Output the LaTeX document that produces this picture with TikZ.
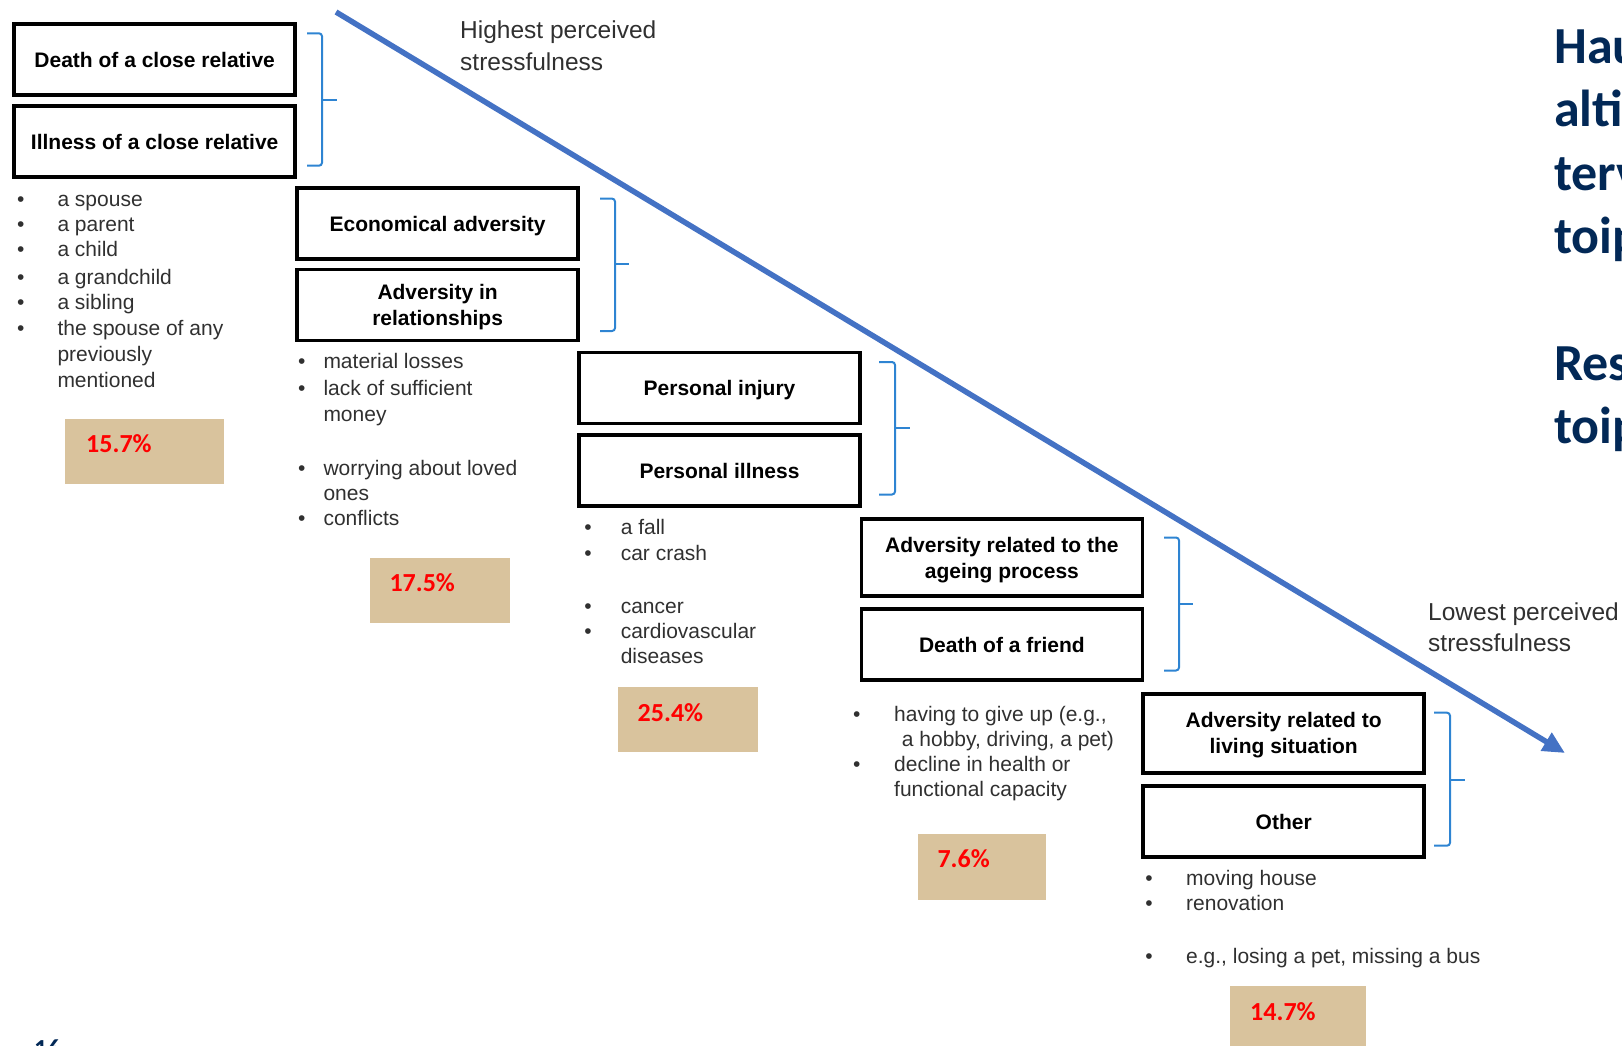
\documentclass[tikz,border=0pt]{standalone}
\usepackage{fontspec}
\setmainfont{Liberation Sans}
\newfontfamily\carlito{Carlito}
\usetikzlibrary{arrows.meta,calc}
\definecolor{tanfill}{RGB}{217,195,157}
\definecolor{arrowblue}{RGB}{68,114,196}
\definecolor{braceblue}{RGB}{46,132,210}
\definecolor{navy}{RGB}{2,40,86}
\definecolor{bodygray}{RGB}{48,48,48}
\begin{document}
\begin{tikzpicture}[x=1pt,y=-1pt,
  catbox/.style={draw=black, line width=3.5pt, minimum width=281pt, minimum height=71pt,
    inner sep=0pt, align=center, text depth=0pt, font=\fontsize{21}{26}\selectfont\bfseries},
  itemtext/.style={anchor=base west, inner sep=0pt, text=bodygray, font=\fontsize{21}{26}\selectfont},
  bul/.style={anchor=base, inner sep=0pt, text=bodygray, font=\fontsize{21}{26}\selectfont},
  pctbox/.style={fill=tanfill, draw=none, anchor=north west, inner sep=0pt},
  pcttext/.style={anchor=base west, inner sep=0pt, text=red, font=\carlito\fontsize{26}{30}\selectfont\bfseries},
  bracepath/.style={draw=braceblue, line width=2pt, rounded corners=3pt},
  stresstext/.style={anchor=base west, inner sep=0pt, text=bodygray, font=\fontsize{24.5}{32}\selectfont},
  navytext/.style={anchor=base west, inner sep=0pt, text=navy, font=\carlito\fontsize{52}{63}\selectfont\bfseries},
  arrowline/.style={draw=arrowblue, line width=5.5pt, -{Triangle[length=22pt,width=20pt]}}
]
\useasboundingbox (0,0) rectangle (1622,1045);

% main arrow
\coordinate (arrowstart) at (336,12);
\coordinate (arrowend) at (1565,753);
\draw[arrowline] (arrowstart) -- (arrowend);

\node[stresstext] (hi1) at (460,38.3) {Highest perceived};
\node[stresstext] (hi2) at (460,70) {stressfulness};
\node[stresstext] (lo1) at (1428,620) {Lowest perceived};
\node[stresstext] (lo2) at (1428,651.7) {stressfulness};

% category boxes
\node[catbox] (b1) at (154.7,59.5) {Death of a close relative};
\node[catbox] (b2) at (154.7,141.7) {Illness of a close relative};
\node[catbox] (b3) at (437.6,223.5) {Economical adversity};
\node[catbox] (b4) at (437.6,305.2) {Adversity in\\relationships};
\node[catbox] (b5) at (719.5,387.9) {Personal injury};
\node[catbox] (b6) at (719.5,470.7) {Personal illness};
\node[catbox, minimum height=77pt] (b7) at (1001.9,557.6) {Adversity related to the\\ageing process};
\node[catbox] (b8) at (1001.9,644.4) {Death of a friend};
\node[catbox, minimum height=79pt] (b9) at (1283.7,733.3) {Adversity related to\\living situation};
\node[catbox] (b10) at (1283.7,821.5) {Other};

% braces
\draw[bracepath] (307,33.3) -- (322,33.3) -- (322,165.7) -- (307,165.7);
\draw[bracepath] (322,100) -- (337,100);
\draw[bracepath] (600,198.6) -- (615,198.6) -- (615,331) -- (600,331);
\draw[bracepath] (615,264) -- (629,264);
\draw[bracepath] (879,362) -- (895,362) -- (895,494.5) -- (879,494.5);
\draw[bracepath] (895,428) -- (910,428);
\draw[bracepath] (1164,537.5) -- (1179,537.5) -- (1179,670.5) -- (1164,670.5);
\draw[bracepath] (1179,604) -- (1193,604);
\draw[bracepath] (1434,712.7) -- (1450,712.7) -- (1450,845.7) -- (1434,845.7);
\draw[bracepath] (1450,780) -- (1465,780);

% list 1
\foreach \yy/\nm in {206/a,231.7/b,256.7/c,284/d,309.3/e,335/f}{\node[bul] (l1\nm) at (20.7,\yy) {•};}
\node[itemtext] (t1a) at (57.3,206) {a spouse};
\node[itemtext] (t1b) at (57.3,231.7) {a parent};
\node[itemtext] (t1c) at (57.3,256.7) {a child};
\node[itemtext] (t1d) at (57.3,284) {a grandchild};
\node[itemtext] (t1e) at (57.3,309.3) {a sibling};
\node[itemtext] (t1f) at (57.3,335) {the spouse of any};
\node[itemtext] (t1g) at (57.3,361.7) {previously};
\node[itemtext] (t1h) at (57.3,387.3) {mentioned};

% list 2
\foreach \yy/\nm in {368.3/a,395/b,475/c,525/d}{\node[bul] (l2\nm) at (301.7,\yy) {•};}
\node[itemtext] (t2a) at (323.3,368.3) {material losses};
\node[itemtext] (t2b) at (323.3,395) {lack of sufficient};
\node[itemtext] (t2c) at (323.3,421.7) {money};
\node[itemtext] (t2d) at (323.3,475) {worrying about loved};
\node[itemtext] (t2e) at (323.3,500) {ones};
\node[itemtext] (t2f) at (323.3,525) {conflicts};

% list 3
\foreach \yy/\nm in {534.5/a,560.4/b,613.2/c,638/d}{\node[bul] (l3\nm) at (588,\yy) {•};}
\node[itemtext] (t3a) at (620.6,534.5) {a fall};
\node[itemtext] (t3b) at (620.6,560.4) {car crash};
\node[itemtext] (t3c) at (620.6,613.2) {cancer};
\node[itemtext] (t3d) at (620.6,638) {cardiovascular};
\node[itemtext] (t3e) at (620.6,663.8) {diseases};

% list 4
\foreach \yy/\nm in {721.7/a,771.7/b}{\node[bul] (l4\nm) at (856.7,\yy) {•};}
\node[itemtext] (t4a) at (894,721.7) {having to give up (e.g.,};
\node[itemtext] (t4b) at (901.7,746.7) {a hobby, driving, a pet)};
\node[itemtext] (t4c) at (894,771.7) {decline in health or};
\node[itemtext] (t4d) at (894,796.7) {functional capacity};

% list 5
\foreach \yy/\nm in {885/a,910/b,963.3/c}{\node[bul] (l5\nm) at (1149,\yy) {•};}
\node[itemtext] (t5a) at (1186,885) {moving house};
\node[itemtext] (t5b) at (1186,910) {renovation};
\node[itemtext] (t5c) at (1186,963.3) {e.g., losing a pet, missing a bus};

% percentage boxes
\node[pctbox, minimum width=159pt, minimum height=65pt] (p1) at (65,418.3) {};
\node[pcttext] (p1t) at ($(p1.north west)+(21,34.4)$) {15.7\%};
\node[pctbox, minimum width=140.7pt, minimum height=65.2pt] (p2) at (369.3,557.5) {};
\node[pcttext] (p2t) at ($(p2.north west)+(20,34.4)$) {17.5\%};
\node[pctbox, minimum width=140.7pt, minimum height=65.2pt] (p3) at (617.5,686.8) {};
\node[pcttext] (p3t) at ($(p3.north west)+(20,34.4)$) {25.4\%};
\node[pctbox, minimum width=128.4pt, minimum height=66pt] (p4) at (917.3,834) {};
\node[pcttext] (p4t) at ($(p4.north west)+(20,33.7)$) {7.6\%};
\node[pctbox, minimum width=135.7pt, minimum height=70pt] (p5) at (1230,986) {};
\node[pcttext] (p5t) at ($(p5.north west)+(20,34)$) {14.7\%};

% cut-off slide text on the right
\node[navytext] (n1) at (1554,63.3) {Hau};
\node[navytext] (n2) at (1554,126.7) {alti};
\node[navytext] (n3) at (1554,190) {terv};
\node[navytext] (n4) at (1554,253.3) {toip};
\node[navytext] (n5) at (1554,380) {Res};
\node[navytext] (n6) at (1554,443.3) {toip};

% slide number, cut off at the bottom
\node[anchor=base west, inner sep=0pt, text=navy, font=\carlito\fontsize{26}{30}\selectfont\bfseries] (num) at (34,1057) {16};
\end{tikzpicture}
\end{document}
